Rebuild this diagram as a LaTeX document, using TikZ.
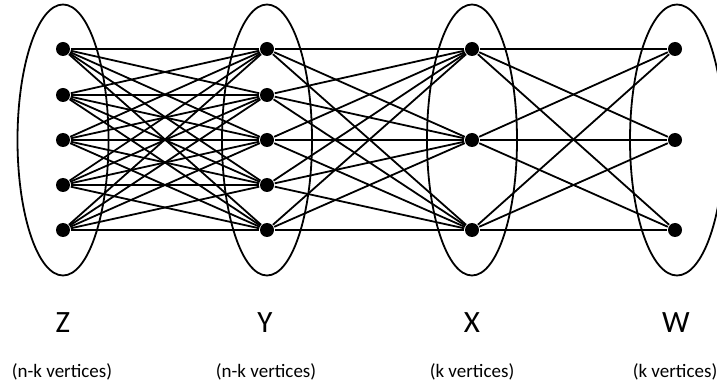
\documentclass[tikz,border=0pt]{standalone}
\usepackage{fontspec}
\setmainfont{Carlito}
\begin{document}
\begin{tikzpicture}[x=1pt,y=-1pt,line width=1.8pt]
    \useasboundingbox (0,0) rectangle (717,387);
    \tikzset{vert/.style={circle,fill,inner sep=0pt,minimum size=14pt},
             setname/.style={font=\fontsize{31}{36}\selectfont},
             setsize/.style={font=\fontsize{19}{22}\selectfont}}
    % the four parts
    \draw (63,140) ellipse (45.5pt and 135.5pt);
    \draw (267,140) ellipse (45pt and 135.5pt);
    \draw (472,140) ellipse (45pt and 135.5pt);
    \draw (677,140) ellipse (47pt and 135.5pt);
    % vertices
    \foreach \i/\y in {1/49,2/95,3/140,4/185,5/230} {
        \node[vert] (z\i) at (63,\y) {};
        \node[vert] (y\i) at (267,\y) {};
    }
    \foreach \i/\y in {1/49,2/140,3/230} {
        \node[vert] (x\i) at (472,\y) {};
        \node[vert] (w\i) at (675,\y) {};
    }
    % edges
    \foreach \i in {1,...,5}
        \foreach \j in {1,...,5}
            \draw (z\i) -- (y\j);
    \foreach \i in {1,...,5}
        \foreach \j in {1,2,3}
            \draw (y\i) -- (x\j);
    \foreach \i in {1,2,3}
        \foreach \j in {1,2,3}
            \draw (x\i) -- (w\j);
    % labels
    \node[setname] (zname) at (63,323) {Z};
    \node[setname] (yname) at (265,323) {Y};
    \node[setname] (xname) at (472,323) {X};
    \node[setname] (wname) at (676,323) {W};
    \node[setsize] (zsize) at (62,372) {(n-k vertices)};
    \node[setsize] (ysize) at (266,372) {(n-k vertices)};
    \node[setsize] (xsize) at (472,372) {(k vertices)};
    \node[setsize] (wsize) at (675,372) {(k vertices)};
\end{tikzpicture}
\end{document}
